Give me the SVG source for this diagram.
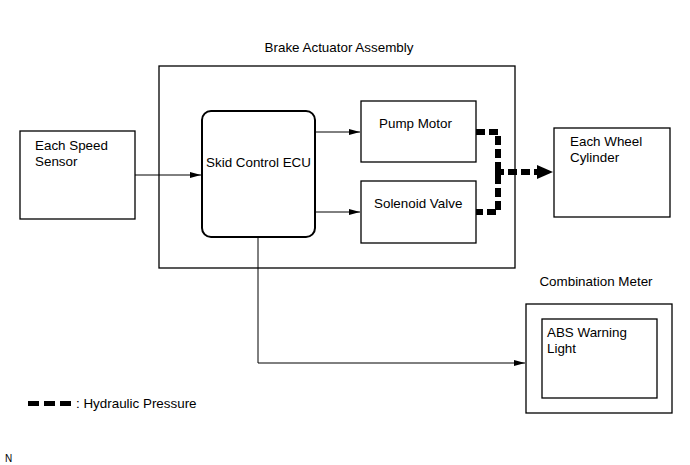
<svg xmlns="http://www.w3.org/2000/svg" width="690" height="465" viewBox="0 0 690 465">
<defs>
<style>
.box{fill:#fff;stroke:#000;stroke-width:1.3}
.ecu{fill:#fff;stroke:#000;stroke-width:2}
.t{font-family:"Liberation Sans",Arial,sans-serif;font-size:13.4px;fill:#000}
.ln{fill:none;stroke:#000;stroke-width:1}
.hyd{fill:none;stroke:#000;stroke-width:6;stroke-dasharray:9 4}
</style>
<marker id="ah" markerUnits="userSpaceOnUse" markerWidth="12" markerHeight="8" refX="11" refY="4" orient="auto">
<path d="M0,1 L11,4 L0,7 Z" fill="#000"/>
</marker>
</defs>
<rect width="690" height="465" fill="#fff"/>
<g id="brake-actuator">
<rect class="box" x="159" y="66" width="356" height="202"/>
<text class="t" x="339" y="52" text-anchor="middle">Brake Actuator Assembly</text>
</g>
<g id="speed-sensor">
<rect class="box" x="20" y="131" width="115" height="88"/>
<text class="t" x="35" y="150">Each Speed</text>
<text class="t" x="35" y="166">Sensor</text>
</g>
<g id="ecu">
<rect class="ecu" x="202" y="111" width="113" height="126" rx="9"/>
<text class="t" x="258.5" y="167" text-anchor="middle">Skid Control ECU</text>
</g>
<g id="pump-motor">
<rect class="box" x="361" y="101" width="115" height="61"/>
<text class="t" x="379" y="128">Pump Motor</text>
</g>
<g id="solenoid-valve">
<rect class="box" x="361" y="181" width="115" height="62"/>
<text class="t" x="374" y="208">Solenoid Valve</text>
</g>
<g id="wheel-cylinder">
<rect class="box" x="554" y="128" width="116" height="89"/>
<text class="t" x="570" y="146">Each Wheel</text>
<text class="t" x="570" y="162">Cylinder</text>
</g>
<g id="combination-meter">
<rect class="box" x="526" y="304" width="146" height="109"/>
<text class="t" x="596" y="286" text-anchor="middle">Combination Meter</text>
</g>
<g id="abs-light">
<rect class="box" x="542" y="319" width="115" height="79"/>
<text class="t" x="547" y="337">ABS Warning</text>
<text class="t" x="547" y="353">Light</text>
</g>
<g id="connectors">
<path class="ln" d="M135,175 H201" marker-end="url(#ah)"/>
<path class="ln" d="M315,132 H360" stroke="#444" marker-end="url(#ah)"/>
<path class="ln" d="M315,212 H360" marker-end="url(#ah)"/>
<path class="ln" d="M258,237 V363 H525" marker-end="url(#ah)"/>
<path class="hyd" d="M476,132 H498 V212 H476"/>
<path class="hyd" d="M495,172 H538" stroke-dasharray="10 4 10 4 10 4"/>
<polygon points="537,165 553,172 537,179" fill="#000"/>
</g>
<g id="legend">
<rect x="28" y="401" width="11" height="5" fill="#000"/>
<rect x="44" y="401" width="11" height="5" fill="#000"/>
<rect x="60" y="401" width="11" height="5" fill="#000"/>
<text class="t" x="76" y="408">: Hydraulic Pressure</text>
<text x="5" y="462" font-family="Liberation Sans, Arial, sans-serif" font-size="10">N</text>
</g>
</svg>
